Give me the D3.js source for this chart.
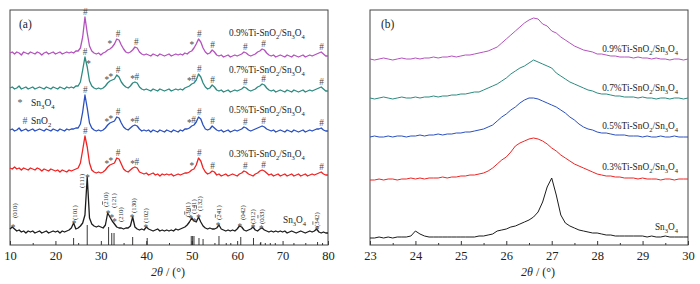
<!DOCTYPE html>
<html><head><meta charset="utf-8">
<script src="https://cdn.jsdelivr.net/npm/d3@7/dist/d3.min.js"></script>
<style>body{margin:0;background:#fff}svg{display:block}</style>
</head><body><svg id="c" width="700" height="284"></svg>
<script>
// ---------------- data ----------------
const seriesNames = ["0.9%Ti-SnO2/Sn3O4","0.7%Ti-SnO2/Sn3O4","0.5%Ti-SnO2/Sn3O4","0.3%Ti-SnO2/Sn3O4","Sn3O4"];
const seriesColors = ["#b452be","#2d8a80","#2a50c0","#ee2424","#1c1c1c"];
// panel (a): 2θ = 10..80 step 0.5 ; intensity (a.u., stacked)
const thetaA = d3.range(141).map(i => 10 + i * 0.5);
const a09 = [192,193,191,193,192,190,193,192,191,193, 192,191,193,192,190,192,193,191,192,193,
  191,192,193,191,192,193,192,193,192,194, 194,197,208,228,212,199,194,192,191,192,
  190,192,193,195,196,198,201,206,205,200, 196,193,192,193,195,198,197,193,191,190,
  191,190,189,191,190,189,191,190,189,190, 191,189,190,191,190,191,190,192,191,193,
  194,197,201,206,203,197,193,191,192,195, 193,190,189,190,188,189,190,188,189,190,
  189,190,191,193,192,190,189,190,191,193, 194,196,195,192,190,189,190,188,189,190,
  189,188,190,189,188,190,189,188,189,190, 188,189,190,189,190,191,192,193,191,189, 189];
const a07 = [157,158,156,157,159,156,157,158,156,157, 158,156,157,158,157,156,158,157,156,158,
  157,156,158,157,156,158,157,158,157,159, 159,163,175,188,178,164,159,157,156,157,
  156,157,159,162,164,165,166,170,168,163, 160,158,157,159,162,163,162,158,156,155,
  156,155,154,156,155,154,156,155,154,155, 156,154,155,156,155,156,155,157,158,159,
  161,162,165,171,168,162,158,156,157,160, 158,155,154,155,153,154,155,153,154,155,
  154,155,156,158,157,155,154,155,156,158, 159,161,160,157,155,154,155,153,154,155,
  154,153,155,154,153,155,154,153,154,155, 153,154,155,154,155,156,157,158,156,154, 154];
const a05 = [115,116,114,115,117,114,115,116,114,115, 116,114,115,116,115,114,116,115,114,116,
  115,114,116,115,114,116,115,116,116,117, 117,121,133,150,137,122,117,115,114,115,
  114,115,117,120,122,123,124,128,127,122, 118,116,115,117,119,120,119,116,114,115,
  114,115,113,115,114,113,115,114,113,115, 114,113,115,114,113,115,114,116,116,117,
  119,120,123,128,126,120,116,115,116,119, 117,115,114,115,113,114,115,113,114,115,
  114,115,116,118,117,115,114,115,116,117, 118,119,118,116,115,114,115,113,114,115,
  114,113,115,114,113,115,114,113,114,115, 113,114,115,114,115,116,116,117,115,114, 114];
const a03 = [77,76,78,76,77,75,77,76,75,77, 76,75,77,76,74,76,75,74,76,75,
  74,75,73,75,74,73,75,74,75,76, 77,82,95,109,98,82,75,73,72,73,
  72,73,75,78,80,81,82,87,86,81, 76,74,73,75,77,78,77,73,72,71,
  72,70,71,72,70,71,69,71,70,71, 70,71,69,70,71,70,71,72,72,73,
  75,76,80,87,84,77,73,71,72,74, 73,70,71,69,70,71,69,70,71,70,
  69,71,72,74,73,71,70,69,71,72, 74,75,74,72,70,71,69,70,71,69,
  70,71,69,70,71,69,70,71,69,70, 71,69,70,71,70,71,72,73,71,70, 70];
const aSn = [16,18,16,14,15,13,14,12,14,13, 14,12,13,14,12,13,14,12,13,14,
  13,14,12,14,13,14,15,17,22,16, 17,19,22,30,68,27,21,19,18,19,
  18,17,20,32,28,24,21,18,17,17, 16,17,17,19,28,18,16,15,16,15,
  18,16,15,14,15,16,14,15,14,15, 14,15,14,16,15,16,17,18,20,23,
  27,24,23,28,23,19,17,16,17,16, 16,17,20,16,15,14,15,14,15,14,
  16,19,18,15,14,15,16,18,15,14, 16,17,15,14,13,14,13,14,13,14,
  13,14,12,13,14,13,12,13,14,13, 12,13,14,13,14,16,13,12,13,12, 12];
// panel (b): 2θ = 23..30 step 0.1
const thetaB = d3.range(71).map(i => 23 + i * 0.1);
const b09 = [186,185,186,187,186,185,186,187,186,186, 187,186,187,187,188,187,188,188,189,188,
  189,190,190,191,192,193,194,196,198,202, 206,210,214,218,222,225,227,226,221,219,
  214,212,208,205,202,199,197,195,194,193, 191,191,190,189,189,188,188,188,187,188,
  187,187,186,187,186,186,185,186,186,185, 186];
const b07 = [147,146,147,148,147,146,147,148,147,147, 148,147,148,148,149,148,149,149,150,150,
  151,151,152,153,153,155,157,159,161,164, 167,171,174,177,179,182,185,183,181,179,
  177,172,169,166,163,161,159,157,155,154, 152,151,151,150,149,149,148,148,148,147,
  148,147,147,146,147,147,146,147,147,146, 147];
const b05 = [108,109,108,108,109,108,109,109,108,109, 109,110,109,110,110,111,110,111,111,112,
  112,113,113,114,115,116,118,120,124,128, 131,135,138,142,145,147,147,146,144,142,
  140,138,135,132,128,125,121,118,116,115, 113,112,112,111,110,110,110,109,109,109,
  108,109,108,108,109,108,108,109,108,108, 108];
const b03 = [65,65,66,65,66,66,65,66,66,67, 66,67,66,67,67,67,68,67,68,68,
  69,69,70,70,71,72,74,77,81,85, 88,93,99,102,104,106,107,106,104,101,
  97,94,90,87,84,81,79,77,75,73, 71,70,69,69,68,68,67,67,67,66,
  67,66,66,66,65,66,66,65,66,66, 66];
const bSn = [7,7,8,7,8,7,8,8,8,9, 14,11,9,8,8,8,8,8,8,8,
  8,8,8,8,9,9,10,11,14,15, 16,18,19,21,23,25,28,33,43,58,
  67,50,30,22,19,17,15,14,13,12, 12,11,10,10,9,9,9,9,9,9,
  9,8,9,8,8,9,8,8,8,8, 8];
// reference sticks for Sn3O4 [2θ, relative intensity]
const sticks = [[24.0,7],[27.0,20],[31.7,18],[32.4,12],[32.9,12],[37.0,8],[40.2,7],
  [49.9,9],[50.2,9],[50.5,9],[51.6,7],[52.5,6],[56.0,9],[60.8,8],[63.6,7],
  [57.6,2],[58.6,2],[65.2,3],[66.2,2],[67.3,2],[68.4,2],[72.5,2],[77.7,3],[78.8,2]];
// phase markers [symbol, 2θ]
const marks09 = [["#",26.6],["*",32.0],["#",33.8],["#",37.8],["*",50.0],["#",51.7],["#",54.6],["#",61.8],["#",65.8],["#",78.6]];
const marks07 = [["#",26.5],["*",27.3],["*",31.3],["*",32.2],["#",33.8],["*",37.0],["#",37.9],["*",49.5],["#",50.4],["#",51.7],["#",54.6],["#",61.8],["#",65.8],["#",78.6]];
const marks05 = [["#",26.6],["*",31.3],["*",32.2],["#",33.8],["*",37.0],["#",37.9],["*",49.5],["#",50.4],["#",51.7],["#",54.6],["#",61.8],["#",65.8],["#",78.6]];
const marks03 = [["#",26.6],["*",31.3],["*",32.2],["#",33.8],["*",37.0],["#",37.9],["*",50.0],["#",51.7],["#",54.6],["#",61.8],["#",65.8],["#",78.6]];
const marksSn = [["*",10.7],["*",24.1],["*",27.1],["*",31.6],["*",32.4],["*",33.0],["*",36.9],["*",39.9],["*",49.8],["*",50.6],["*",51.5],["*",55.8],["*",60.6],["*",63.5],["*",65.3],["*",77.6]];
// Miller indices (2θ, intensity level of label foot, text; "-" = overbar on next digit)
const hkl = [[11.1,27,"(010)"],[24.3,25,"(101)"],[25.85,57,"(111)"],[31.1,38,"(-210)"],[32.9,37,"(121)"],
  [34.3,23,"(210)"],[37.1,32,"(130)"],[39.9,22,"(102)"],[49.2,28,"(-301)"],[50.4,31,"(-141)"],
  [51.8,34,"(-132)"],[55.9,25,"(-241)"],[61.1,25,"(042)"],[63.4,21,"(312)"],[65.3,21,"(0-33)"],[77.4,18,"(-342)"]];
const ticksA = [10,20,30,40,50,60,70,80];
const minorA = [15,25,35,45,55,65,75];
const ticksB = [23,24,25,26,27,28,29,30];
const minorB = [23.5,24.5,25.5,26.5,27.5,28.5,29.5];

// ---------------- drawing ----------------
const FONT = "'Liberation Serif','Times New Roman',Times,serif";
const svg = d3.select("#c").attr("font-family", FONT);
const y = d3.scaleLinear().domain([0, 235]).range([245, 10]);

function rich(t, str, size) {
  const segs = [];
  for (let i = 0; i < str.length; i++) {
    const c = str[i];
    const sub = /\d/.test(c) && i > 0 && /[A-Za-z]/.test(str[i - 1]);
    if (!sub && segs.length && !segs[segs.length - 1].sub) segs[segs.length - 1].t += c;
    else segs.push({ t: c, sub });
  }
  let shifted = false;
  segs.forEach(s => {
    const ts = t.append("tspan").text(s.t);
    if (s.sub) { ts.attr("font-size", size * 0.7).attr("dy", size * 0.28); shifted = true; }
    else if (shifted) { ts.attr("dy", -size * 0.28); shifted = false; }
  });
}

const panels = [
  { x0: 10, x1: 328, dom: [10, 80], ticks: ticksA, minor: minorA, theta: thetaA,
    data: [a09, a07, a05, a03, aSn], tag: "(a)", tagX: 19, titleX: 168, sw: 1.3 },
  { x0: 370, x1: 688, dom: [23, 30], ticks: ticksB, minor: minorB, theta: thetaB,
    data: [b09, b07, b05, b03, bSn], tag: "(b)", tagX: 381, titleX: 538, sw: 1.0 }
];

panels.forEach((p, pi) => {
  const x = d3.scaleLinear().domain(p.dom).range([p.x0, p.x1]);
  p.x = x;
  const g = svg.append("g");
  const ax = g.append("g").attr("transform", "translate(0,245)")
    .call(d3.axisBottom(x).tickValues(p.ticks).tickSize(-4).tickPadding(6).tickFormat(d3.format("d")));
  ax.select(".domain").remove();
  ax.selectAll("line").attr("stroke", "#333");
  ax.selectAll("text").attr("font-family", FONT).attr("font-size", 12.5).attr("fill", "#222");
  const mx = g.append("g").attr("transform", "translate(0,245)")
    .call(d3.axisBottom(x).tickValues(p.minor).tickSize(-2).tickFormat(""));
  mx.select(".domain").remove();
  mx.selectAll("line").attr("stroke", "#333");
  g.append("rect").attr("x", p.x0).attr("y", 10).attr("width", p.x1 - p.x0).attr("height", 235)
    .attr("fill", "none").attr("stroke", "#444").attr("stroke-width", 1);
  const line = d3.line().x(d => x(d[0])).y(d => y(d[1]));
  p.data.forEach((vals, si) => {
    g.append("path").datum(p.theta.map((t, i) => [t, vals[i]]))
      .attr("d", line).attr("fill", "none").attr("stroke", seriesColors[si])
      .attr("stroke-width", p.sw).attr("stroke-linejoin", "round");
  });
  g.append("text").attr("x", p.tagX).attr("y", 28).attr("font-size", 11.5).attr("fill", "#222").text(p.tag);
  const tt = g.append("text").attr("x", p.titleX).attr("y", 276).attr("text-anchor", "middle")
    .attr("font-size", 12).attr("fill", "#222");
  tt.append("tspan").attr("font-style", "italic").text("2θ");
  tt.append("tspan").text(" / (°)");
});

// ---- panel (a) extras ----
const pa = panels[0], xa = pa.x;
svg.append("g").selectAll("line").data(sticks).join("line")
  .attr("x1", d => xa(d[0])).attr("x2", d => xa(d[0]))
  .attr("y1", y(0)).attr("y2", d => y(d[1]))
  .attr("stroke", "#222").attr("stroke-width", 0.9);

function localMax(vals, t) {
  let m = -Infinity;
  thetaA.forEach((th, i) => { if (Math.abs(th - t) <= 0.55) m = Math.max(m, vals[i]); });
  return m;
}
const markSets = [marks09, marks07, marks05, marks03, marksSn];
markSets.forEach((ms, si) => {
  const vals = pa.data[si];
  const lift = si === 4 ? 1 : 5;
  svg.append("g").selectAll("text").data(ms).join("text")
    .attr("x", d => xa(d[1])).attr("text-anchor", "middle")
    .attr("y", d => y(localMax(vals, d[1])) - lift + (d[0] === "*" ? 4.6 : 3.2))
    .attr("font-size", 9.3).attr("fill", "#4a4a4a").text(d => d[0]);
});

hkl.forEach(([t, v, s]) => {
  const tx = svg.append("text")
    .attr("transform", `translate(${xa(t)},${y(v)}) rotate(-90)`)
    .attr("dy", "0.35em").attr("font-size", 6.8).attr("fill", "#333");
  for (let i = 0; i < s.length; i++) {
    if (s[i] === "-") { tx.append("tspan").attr("text-decoration", "overline").style("text-decoration", "overline").text(s[i + 1]); i++; }
    else tx.append("tspan").text(s[i]);
  }
});

// legend
svg.append("text").attr("x", 20).attr("y", 106).attr("text-anchor", "middle").attr("font-size", 10).attr("fill", "#555").text("*");
rich(svg.append("text").attr("x", 31).attr("y", 106).attr("font-size", 9.5).attr("fill", "#222"), "Sn3O4", 9.5);
svg.append("text").attr("x", 25).attr("y", 124).attr("text-anchor", "middle").attr("font-size", 10).attr("fill", "#555").text("#");
rich(svg.append("text").attr("x", 31).attr("y", 124).attr("font-size", 9.5).attr("fill", "#222"), "SnO2", 9.5);

// series labels
const labA = [[229, 36], [229, 73], [229, 113], [229, 157], [283, 223]];
const labB = [[678, 52], [678, 91], [678, 129], [678, 170], [678, 230]];
seriesNames.forEach((n, i) => {
  rich(svg.append("text").attr("x", labA[i][0]).attr("y", labA[i][1]).attr("font-size", 9.3).attr("fill", "#222"), n, 9.3);
  rich(svg.append("text").attr("x", labB[i][0]).attr("y", labB[i][1]).attr("text-anchor", "end").attr("font-size", 9.3).attr("fill", "#222"), n, 9.3);
});
</script>
</body></html>
